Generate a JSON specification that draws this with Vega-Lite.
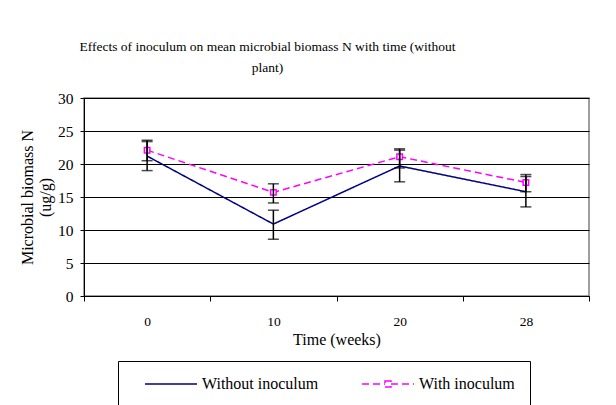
{
  "$schema": "https://vega.github.io/schema/vega-lite/v6.json",
  "autosize": "none",
  "width": 505,
  "height": 198,
  "padding": {"left": 84, "top": 98, "right": 27, "bottom": 109},
  "background": "white",
  "title": {
    "text": ["Effects of inoculum on mean microbial biomass N with time (without", "plant)"],
    "fontSize": 13.5,
    "fontWeight": "normal",
    "color": "black",
    "anchor": "middle",
    "dx": -69,
    "offset": 17,
    "lineHeight": 21
  },
  "data": {
    "values": [
      {"time": "0", "series": "Without inoculum", "mean": 21.2, "lower": 19.0, "upper": 23.4},
      {"time": "10", "series": "Without inoculum", "mean": 10.9, "lower": 8.6, "upper": 13.0},
      {"time": "20", "series": "Without inoculum", "mean": 19.7, "lower": 17.3, "upper": 22.3},
      {"time": "28", "series": "Without inoculum", "mean": 15.8, "lower": 13.5, "upper": 18.1},
      {"time": "0", "series": "With inoculum", "mean": 22.1, "lower": 20.5, "upper": 23.6},
      {"time": "10", "series": "With inoculum", "mean": 15.7, "lower": 14.1, "upper": 17.0},
      {"time": "20", "series": "With inoculum", "mean": 21.1, "lower": 19.4, "upper": 22.1},
      {"time": "28", "series": "With inoculum", "mean": 17.2, "lower": 15.8, "upper": 18.4}
    ]
  },
  "encoding": {
    "x": {
      "field": "time",
      "type": "ordinal",
      "sort": ["0", "10", "20", "28"],
      "scale": {"type": "band", "paddingInner": 0, "paddingOuter": 0},
      "axis": {
        "title": "Time (weeks)",
        "labelAngle": 0,
        "tickBand": "extent",
        "domainColor": "black",
        "tickColor": "black",
        "tickSize": 5,
        "labelPadding": 13,
        "titlePadding": 4,
        "labelFontSize": 13.5,
        "labelColor": "black",
        "titleFontSize": 16,
        "titleFontWeight": "normal",
        "titleColor": "black",
        "grid": false
      }
    }
  },
  "resolve": {"axis": {"y": "independent"}},
  "layer": [
    {
      "mark": {"type": "line", "strokeWidth": 1.5},
      "encoding": {
        "y": {
          "field": "mean",
          "type": "quantitative",
          "scale": {"domain": [0, 30]},
          "axis": {
            "title": ["Microbial biomass N", "(ug/g)"],
            "values": [0, 5, 10, 15, 20, 25, 30],
            "labelOverlap": false,
            "grid": true,
            "gridColor": "black",
            "gridOpacity": 1,
            "domainColor": "black",
            "tickColor": "black",
            "tickSize": 4,
            "labelPadding": 7,
            "labelFontSize": 15.5,
            "labelColor": "black",
            "titleFontSize": 16,
            "titleFontWeight": "normal",
            "titleColor": "black",
            "titlePadding": 4,
            "titleLineHeight": 18
          }
        },
        "color": {
          "field": "series",
          "type": "nominal",
          "scale": {"domain": ["Without inoculum", "With inoculum"], "range": ["#000080", "#FF00FF"]},
          "legend": {
            "title": null,
            "orient": "none",
            "legendX": 34,
            "legendY": 263,
            "direction": "horizontal",
            "symbolSize": 100,
            "symbolStrokeWidth": 1.5,
            "strokeColor": "black",
            "padding": 15,
            "columnPadding": 31,
            "labelOffset": 53,
            "labelFontSize": 16,
            "labelColor": "black",
            "labelLimit": 300
          }
        },
        "strokeDash": {
          "field": "series",
          "type": "nominal",
          "scale": {"domain": ["Without inoculum", "With inoculum"], "range": [[1, 0], [7, 4]]},
          "legend": null
        }
      }
    },
    {
      "transform": [{"filter": "false"}],
      "mark": {"type": "point", "filled": false},
      "encoding": {
        "y": {"field": "mean", "type": "quantitative", "axis": null},
        "shape": {
          "field": "series",
          "type": "nominal",
          "scale": {"domain": ["Without inoculum", "With inoculum"], "range": ["M0.8,0H11.2", "M0.8,0H5.4M6.6,0H11.2M5.4,-0.6H6.6V0.6H5.4Z"]},
          "legend": null
        }
      }
    },
    {
      "transform": [{"filter": "datum.series == 'With inoculum'"}],
      "mark": {"type": "point", "shape": "square", "filled": false, "fill": "white", "fillOpacity": 1, "stroke": "#FF00FF", "strokeWidth": 1.5, "size": 30},
      "encoding": {
        "y": {"field": "mean", "type": "quantitative", "axis": null}
      }
    },
    {
      "mark": {"type": "rule", "color": "black", "strokeWidth": 1.5},
      "encoding": {
        "y": {"field": "lower", "type": "quantitative", "axis": null},
        "y2": {"field": "upper"}
      }
    },
    {
      "mark": {"type": "tick", "color": "black", "thickness": 1.5, "size": 11, "orient": "horizontal"},
      "encoding": {
        "y": {"field": "lower", "type": "quantitative", "axis": null}
      }
    },
    {
      "mark": {"type": "tick", "color": "black", "thickness": 1.5, "size": 11, "orient": "horizontal"},
      "encoding": {
        "y": {"field": "upper", "type": "quantitative", "axis": null}
      }
    }
  ],
  "config": {
    "font": "Times New Roman, Liberation Serif, DejaVu Serif, serif",
    "view": {"stroke": "#808080", "strokeWidth": 1.5}
  }
}
